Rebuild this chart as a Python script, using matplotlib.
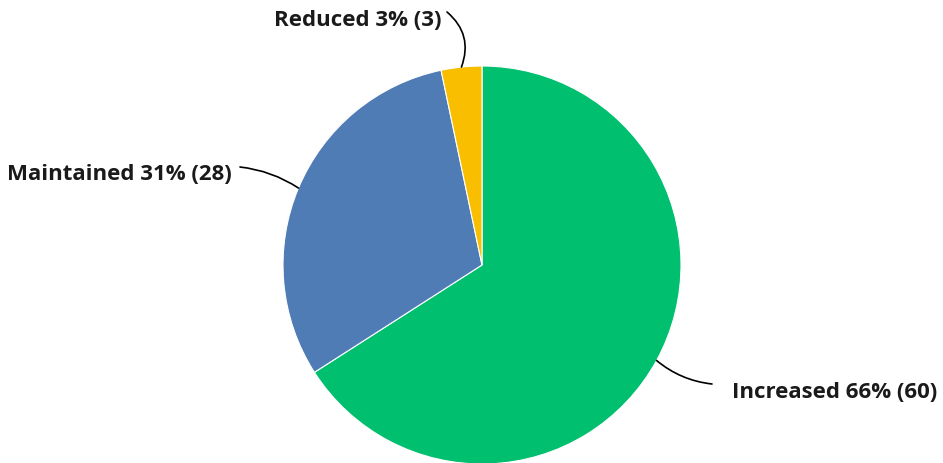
import matplotlib
matplotlib.use("Agg")
import matplotlib.pyplot as plt
import numpy as np

categories = ["Increased", "Maintained", "Reduced"]
counts = [60, 28, 3]
percents = ["66%", "31%", "3%"]
colors = ["#00BF6F", "#507CB6", "#F9BE00"]

plt.rcParams['font.family'] = ['Open Sans', 'DejaVu Sans']

W, H = 943, 464
fig = plt.figure(figsize=(W / 100, H / 100), dpi=100)
ax = fig.add_axes([0, 0, 1, 1])
R = 199.0
cx, cy = 482.0, 464 - 266.0

wedges, _ = ax.pie(counts, colors=colors, startangle=90, counterclock=False,
                   radius=1.0, wedgeprops=dict(edgecolor='white', linewidth=0.8))
ax.set_aspect('auto')
ax.set_xlim(-cx / R, (W - cx) / R)
ax.set_ylim(-cy / R, (H - cy) / R)
ax.axis('off')

# label positions (figure pixels) and leader start points
text_pos = [(732, 71, 'left'), (232, 289, 'right'), (442, 444, 'right')]
line_start = [(712, 79), (240, 296), (447, 451)]
rads = [-0.15, -0.12, -0.35]

for w, cat, c, p, tp, ls, rad in zip(wedges, categories, counts, percents, text_pos, line_start, rads):
    ang = np.deg2rad((w.theta1 + w.theta2) / 2)
    ex, ey = np.cos(ang), np.sin(ang)
    fig.text(tp[0] / W, tp[1] / H, f"{cat} {p} ({c})", ha=tp[2], va='center',
             fontsize=16, fontweight='bold', color='#1a1a1a')
    ax.annotate("", xy=(ex, ey), xycoords='data', xytext=(ls[0], ls[1]),
                textcoords='figure pixels',
                arrowprops=dict(arrowstyle='-', color='black', lw=1.2,
                                shrinkA=0, shrinkB=0,
                                connectionstyle=f"arc3,rad={rad}"))

fig.savefig("out.png", dpi=100)
